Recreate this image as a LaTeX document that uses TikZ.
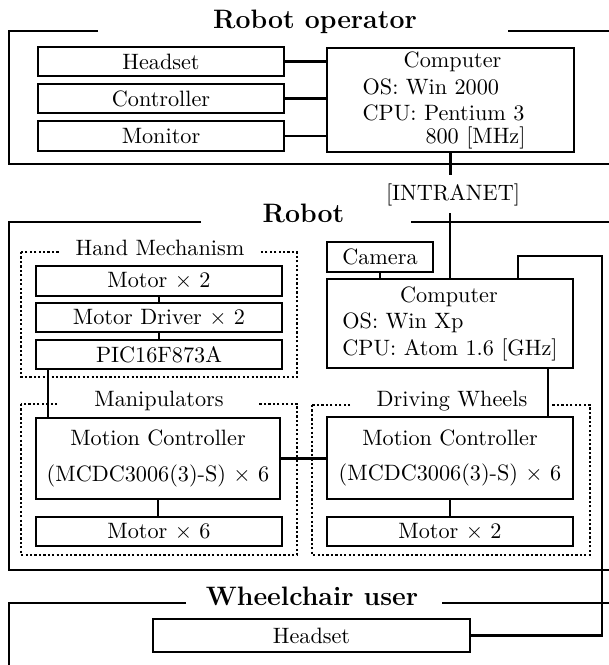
\documentclass[tikz,border=0pt]{standalone}
\usetikzlibrary{calc}
\newcommand*{\Px}{0.45pt}
\newcommand*{\UnitBox}[6]{% #1 = name, #2/#3 = top left, #4/#5 = bottom right, #6 = text
  \node [draw=black, line width=.7pt, inner sep=0pt, align=center,
         minimum width=(#4-#2)*\Px, minimum height=(#5-#3)*\Px]
    (#1) at ({(#2+#4)/2},{(#3+#5)/2}) {#6};%
}

\begin{document}
\begin{tikzpicture}[x=\Px, y=-\Px,
    link/.style={line width=1pt},
    frame/.style={line width=.8pt},
    group/.style={line width=1pt, dash pattern=on 1pt off 1pt},
    grouptitle/.style={fill=white, anchor=base, inner sep=0pt, minimum width=200*\Px},
    frametitle/.style={anchor=base, font=\large\bfseries}]
    \useasboundingbox (0,0) rectangle (608,665);

    % outer frames
    \draw [frame] (98,31) -- (9,31) -- (9,164) -- (615,164);
    \draw [frame] (508,31) -- (615,31);
    \draw [frame] (201,222) -- (9,222) -- (9,570) -- (615,570);
    \draw [frame] (411,222) -- (615,222);
    \draw [frame] (186,603) -- (9,603) -- (9,670);
    \draw [frame] (442,603) -- (615,603);
    \node [frametitle] (optitle) at (315,28) {Robot operator};
    \node [frametitle] (robottitle) at (303.5,222) {Robot};
    \node [frametitle] (usertitle) at (312,605) {Wheelchair user};

    % operator side
    \foreach \name/\ya/\yb/\text in {ophead/47/76/Headset,
                                     opctrl/84/113/Controller,
                                     opmon/121/151/Monitor} {
        \UnitBox{\name}{38}{\ya}{284}{\yb}{\text}
    }
    \UnitBox{opcomp}{327}{48}{574}{152}{\begin{tabular}{@{}l@{}}
        \hspace*{18.5pt}Computer\\
        OS: Win 2000\\
        CPU: Pentium 3\hspace*{6.3pt}\\[-2pt]
        \hspace*{28.3pt}800 [MHz]
    \end{tabular}}
    \node [anchor=base] (intranet) at (453,200) {[INTRANET]};

    % robot side
    \draw [group] (21,252) rectangle (297,377);
    \draw [group] (21,404) rectangle (297,555);
    \draw [group] (312,405) rectangle (590,555);
    \node [grouptitle] (handtitle) at (160,255) {Hand Mechanism};
    \node [grouptitle] (maniptitle) at (159,406) {Manipulators};
    \node [grouptitle] (drivetitle) at (452,406) {Driving Wheels};

    \UnitBox{camera}{327}{242}{433}{272}{Camera}
    \UnitBox{rbcomp}{327}{279}{573}{368}{\begin{tabular}{@{}l@{}}
        \hspace*{26pt}Computer\\
        OS: Win Xp\\
        CPU: Atom 1.6 [GHz]
    \end{tabular}}

    \foreach \name/\ya/\yb/\text in {hmotor/266/296/Motor $\times$ 2,
                                     hdriver/303/332/Motor Driver $\times$ 2,
                                     hpic/340/369/PIC16F873A} {
        \UnitBox{\name}{36}{\ya}{282}{\yb}{\text}
    }
    \UnitBox{mctrl}{36}{418}{280}{499}{Motion Controller\\[4pt] (MCDC3006(3)-S) $\times$ 6}
    \UnitBox{mmotor}{36}{517}{282}{546}{Motor $\times$ 6}
    \UnitBox{dctrl}{327}{417}{573}{499}{Motion Controller\\[4pt] (MCDC3006(3)-S) $\times$ 6}
    \UnitBox{dmotor}{327}{517}{573}{546}{Motor $\times$ 2}

    % wheelchair side
    \UnitBox{uhead}{153}{619}{470}{652}{Headset}

    % wiring
    \foreach \name in {ophead,opctrl,opmon}
        \draw [link] (\name.east) -- (\name.east -| opcomp.west);
    \draw [link] (opcomp.south) -- (opcomp.south |- intranet.north);
    \draw [link] (intranet.south -| rbcomp.north) -- (rbcomp.north);
    \draw [link] (camera.south) -- (camera.south |- rbcomp.north);
    \draw [link] (hmotor.south) -- (hdriver.north)
                 (hdriver.south) -- (hpic.north);
    \coordinate (pictap) at ([xshift=5.85pt]hpic.south west);
    \draw [link] (pictap) -- (pictap |- mctrl.north);
    \draw [link] (mctrl.south) -- (mctrl.south |- mmotor.north);
    \draw [link] (mctrl.east) -- (mctrl.east -| dctrl.west);
    \coordinate (drivetap) at ([xshift=-11.7pt]rbcomp.south east);
    \draw [link] (drivetap) -- (drivetap |- dctrl.north);
    \draw [link] (dctrl.south) -- (dmotor.north);
    \coordinate (wire) at (602,256);
    \draw [link] ([xshift=-25.2pt]rbcomp.north east) |- (wire) |- (uhead.east);
\end{tikzpicture}
\end{document}
